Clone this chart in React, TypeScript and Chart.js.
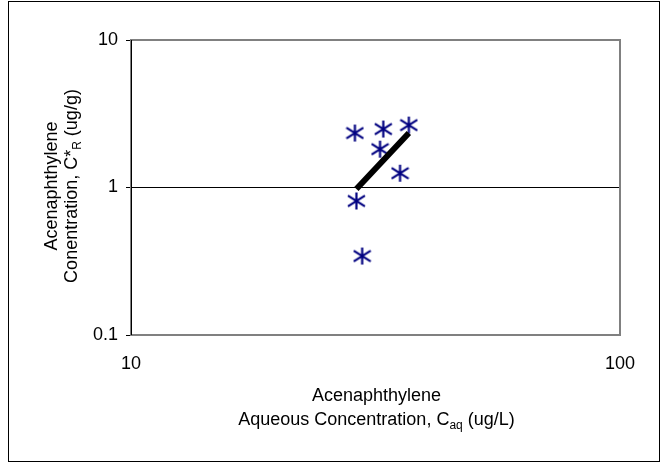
import React, { useEffect, useRef } from "react";
import { Chart, registerables } from "chart.js";

Chart.register(...registerables);

const xTickValues = [10, 100];
const yTickValues = [0.1, 1, 10];

const sampleX = [28.7, 32.8, 37.0, 32.3, 35.5, 28.9, 29.7];
const sampleY = [2.34, 2.49, 2.65, 1.82, 1.25, 0.81, 0.343];

const fitX = [28.9, 37.0];
const fitY = [0.977, 2.34];

const FONT = "'Liberation Sans', Arial, sans-serif";
const FS = 18;

function makeAsterisk(): HTMLCanvasElement {
  const c = document.createElement("canvas");
  const s = 19;
  c.width = s;
  c.height = s;
  const g = c.getContext("2d")!;
  g.strokeStyle = "#000080";
  g.lineWidth = 2.2;
  g.lineCap = "butt";
  g.beginPath();
  g.moveTo(s / 2, 1);
  g.lineTo(s / 2, s - 1);
  g.moveTo(1, s * 0.22);
  g.lineTo(s - 1, s * 0.78);
  g.moveTo(1, s * 0.78);
  g.lineTo(s - 1, s * 0.22);
  g.stroke();
  return c;
}

type Part = { t: string; sub?: boolean };

function drawRich(ctx: CanvasRenderingContext2D, parts: Part[], cx: number, cy: number, size: number) {
  const subSize = Math.round(size * 0.68);
  let total = 0;
  const widths = parts.map((p) => {
    ctx.font = `${p.sub ? subSize : size}px ${FONT}`;
    const w = ctx.measureText(p.t).width;
    total += w;
    return w;
  });
  let x = cx - total / 2;
  ctx.textAlign = "left";
  ctx.textBaseline = "middle";
  parts.forEach((p, i) => {
    ctx.font = `${p.sub ? subSize : size}px ${FONT}`;
    ctx.fillText(p.t, x, p.sub ? cy + size * 0.3 : cy);
    x += widths[i];
  });
}

const decorPlugin = {
  id: "decor",
  beforeDatasetsDraw(chart: any) {
    const { ctx, chartArea: a } = chart;
    ctx.save();
    ctx.strokeStyle = "#808080";
    ctx.lineWidth = 2;
    ctx.strokeRect(a.left, a.top, a.right - a.left, a.bottom - a.top);
    ctx.strokeStyle = "#000";
    ctx.lineWidth = 1;
    ctx.beginPath();
    ctx.moveTo(a.left + 0.5, a.top);
    ctx.lineTo(a.left + 0.5, a.bottom);
    ctx.stroke();
    ctx.restore();
  },
  afterDraw(chart: any) {
    const { ctx, chartArea: a } = chart;
    ctx.save();
    // outer border
    ctx.strokeStyle = "#000";
    ctx.lineWidth = 1;
    ctx.strokeRect(8.5, 1.5, 651, 460);
    ctx.fillStyle = "#000";
    const cx = (a.left + a.right) / 2;
    drawRich(ctx, [{ t: "Acenaphthylene" }], cx + 1, 396, FS);
    drawRich(ctx, [{ t: "Aqueous Concentration, C" }, { t: "aq", sub: true }, { t: " (ug/L)" }], cx + 1, 420, FS);
    ctx.translate(52, 186);
    ctx.rotate(-Math.PI / 2);
    drawRich(ctx, [{ t: "Acenaphthylene" }], 0, 0, FS);
    drawRich(ctx, [{ t: "Conentration, C*" }, { t: "R", sub: true }, { t: " (ug/g)" }], 0, 20, FS);
    ctx.restore();
  },
};

export default function App() {
  const ref = useRef<HTMLCanvasElement>(null);
  useEffect(() => {
    const canvas = ref.current!;
    const marker = makeAsterisk();
    const chart = new Chart(canvas, {
      type: "scatter",
      data: {
        datasets: [
          {
            label: "Fit",
            data: fitX.map((x, i) => ({ x, y: fitY[i] })),
            showLine: true,
            borderColor: "#000",
            borderWidth: 6,
            pointRadius: 0,
            borderCapStyle: "butt",
          } as any,
          {
            label: "Data",
            data: sampleX.map((x, i) => ({ x, y: sampleY[i] })),
            pointStyle: marker as any,
            pointRadius: 9,
            showLine: false,
          },
        ],
      },
      options: {
        responsive: false,
        animation: false,
        devicePixelRatio: 1,
        layout: { padding: { left: 0, top: 40, right: 41, bottom: 0 } },
        plugins: { legend: { display: false }, tooltip: { enabled: false } },
        scales: {
          x: {
            type: "logarithmic",
            min: 10,
            max: 100,
            afterBuildTicks: (s: any) => {
              s.ticks = xTickValues.map((v) => ({ value: v }));
            },
            afterFit: (s: any) => {
              s.height = 128;
            },
            grid: { display: false, drawTicks: false },
            border: { display: false },
            ticks: {
              padding: 18,
              color: "#000",
              font: { family: FONT, size: FS },
              maxRotation: 0,
              autoSkip: false,
              callback: (v: any) => String(v),
            },
          },
          y: {
            type: "logarithmic",
            min: 0.1,
            max: 10,
            afterBuildTicks: (s: any) => {
              s.ticks = yTickValues.map((v) => ({ value: v }));
            },
            afterFit: (s: any) => {
              s.width = 131;
            },
            grid: {
              color: (c: any) => (c.tick && c.tick.value === 1 ? "#000" : "rgba(0,0,0,0)"),
              tickColor: "#000",
              tickLength: 5,
              lineWidth: 1,
            },
            border: { display: false },
            ticks: {
              padding: 8,
              color: "#000",
              font: { family: FONT, size: FS },
              autoSkip: false,
              callback: (v: any) => String(v),
            },
          },
        },
      },
      plugins: [decorPlugin],
    });
    return () => chart.destroy();
  }, []);
  return (
    <div style={{ position: "fixed", left: 0, top: 0, width: 661, height: 463, background: "#fff" }}>
      <canvas ref={ref} width={661} height={463} style={{ width: 661, height: 463, display: "block" }} />
    </div>
  );
}
